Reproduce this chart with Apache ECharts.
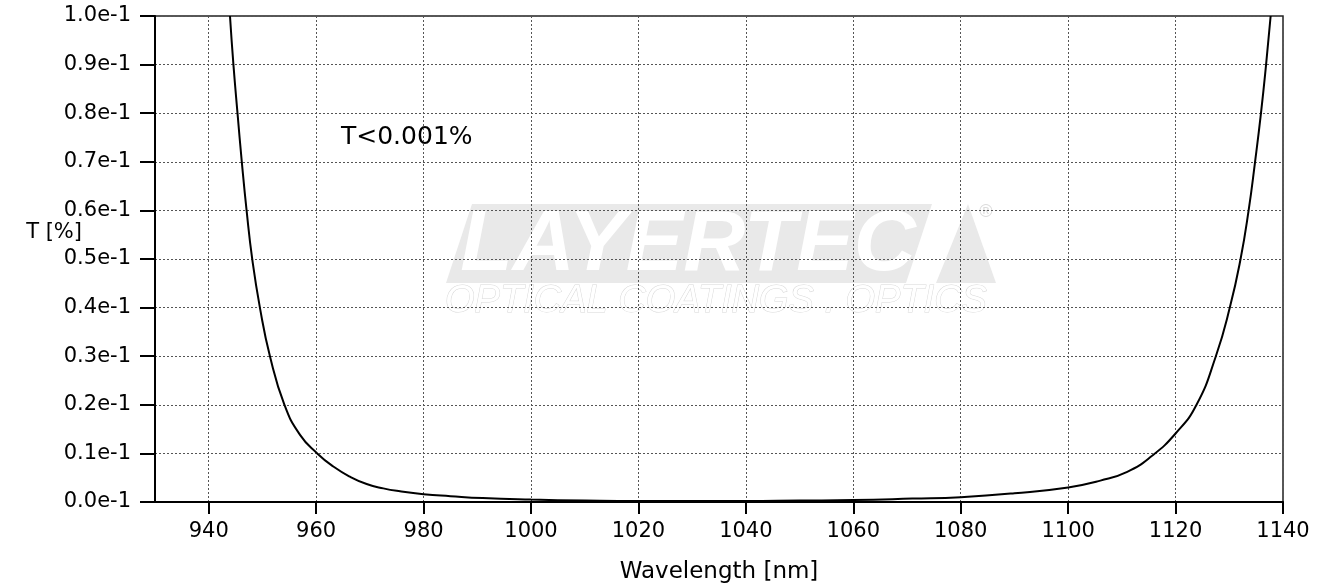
<!DOCTYPE html>
<html>
<head>
<meta charset="utf-8">
<script src="https://cdn.jsdelivr.net/npm/echarts@6/dist/echarts.min.js"></script>
<style>
html,body{margin:0;padding:0;background:#fff;}
#chart{width:1337px;height:587px;}
</style>
</head>
<body>
<div id="chart"></div>
<script>
// Wavelength [nm] and transmission [%]
const wavelength = [943.96, 944.6, 945.36, 946.16, 947.05, 948.1, 949.53, 951.4, 954.1, 957.0,
  960.2, 963.2, 966.3, 969.4, 972.5, 975.6, 980, 985, 991, 1000,
  1010, 1020, 1030, 1040, 1050, 1060, 1071, 1080, 1090, 1100,
  1106, 1111, 1115.5, 1120, 1123.9, 1127.5, 1130.1, 1132.1, 1133.6, 1134.8,
  1135.9, 1136.85, 1137.7];
const transmission = [0.1, 0.09, 0.08, 0.07, 0.06, 0.05, 0.04, 0.03, 0.02, 0.0138,
  0.01, 0.0073, 0.0052, 0.0037, 0.0028, 0.0022, 0.0016, 0.0012, 0.0008, 0.0005,
  0.0003, 0.0002, 0.0002, 0.0002, 0.0003, 0.0004, 0.0007, 0.001, 0.0018, 0.003,
  0.0044, 0.0062, 0.0094, 0.0141, 0.02, 0.03, 0.04, 0.05, 0.06, 0.07,
  0.08, 0.09, 0.1];
// Tick values / labels
const xTicks = [940, 960, 980, 1000, 1020, 1040, 1060, 1080, 1100, 1120, 1140];
const yTickLabels = ['0.0e-1','0.1e-1','0.2e-1','0.3e-1','0.4e-1','0.5e-1','0.6e-1','0.7e-1','0.8e-1','0.9e-1','1.0e-1'];
const annotation = 'T<0.001%';
const xName = 'Wavelength [nm]';
const yName = 'T [%]';

const data = wavelength.map((w, i) => [w, transmission[i]]);
const FONT = 'DejaVu Sans';

const chart = echarts.init(document.getElementById('chart'), null, {renderer: 'canvas'});
chart.setOption({
  animation: false,
  backgroundColor: '#fff',
  grid: {left: 155, right: 54, top: 16, bottom: 85, outerBoundsMode: 'none', containLabel: false,
    show: true, borderColor: '#222', borderWidth: 1.5, backgroundColor: 'transparent'},
  xAxis: {
    type: 'value', min: 930, max: 1140,
    name: xName, nameLocation: 'middle', nameGap: 59,
    nameTextStyle: {fontFamily: FONT, fontSize: 23, color: '#000'},
    axisLine: {show: true, lineStyle: {color: '#000', width: 2}},
    axisTick: {show: true, length: 12, lineStyle: {color: '#000', width: 2}, customValues: xTicks},
    axisLabel: {fontFamily: FONT, fontSize: 21, color: '#000', margin: 19, customValues: xTicks,
      formatter: v => String(v)},
    splitLine: {show: true, lineStyle: {color: '#555', width: 1, type: [2, 2]}}
  },
  yAxis: {
    type: 'value', min: 0, max: 0.1, interval: 0.01,
    axisLine: {show: true, lineStyle: {color: '#000', width: 2}},
    axisTick: {show: true, length: 15, lineStyle: {color: '#000', width: 2}},
    axisLabel: {fontFamily: FONT, fontSize: 21, color: '#000', margin: 24,
      formatter: v => yTickLabels[Math.round(v * 100)]},
    splitLine: {show: true, lineStyle: {color: '#555', width: 1, type: [2, 2]}}
  },
  graphic: [
    {type: 'polygon', z: -5, shape: {points: [[472, 204], [932, 204], [906, 283], [446, 283]]}, style: {fill: '#e9e9e9'}},
    {type: 'text', z: -4, x: 688, y: 246, style: {text: 'LAYERTEC', fill: '#fff', font: 'italic 900 86px "Liberation Sans"', textAlign: 'center', textVerticalAlign: 'middle'}},
    {type: 'polygon', z: -5, shape: {points: [[936, 283], [968, 204], [996, 283]]}, style: {fill: '#e9e9e9'}},
    {type: 'text', z: -4, x: 986, y: 212, style: {text: '®', fill: '#dcdcdc', font: '18px "Liberation Sans"', textAlign: 'center', textVerticalAlign: 'middle'}},
    {type: 'text', z: -4, x: 716, y: 301, style: {text: 'OPTICAL COATINGS . OPTICS', fill: '#fff', stroke: '#d8d8d8', lineWidth: 1, font: 'italic 200 38px "Liberation Sans"', textAlign: 'center', textVerticalAlign: 'middle'}},
    {type: 'text', x: 341, y: 137, style: {text: annotation, fill: '#000', font: '25px "DejaVu Sans"', textVerticalAlign: 'middle'}},
    {type: 'text', x: 82, y: 233, style: {text: yName, fill: '#000', font: '21px "DejaVu Sans"', textAlign: 'right', textVerticalAlign: 'middle'}}
  ],
  series: [{
    type: 'line', data: data, showSymbol: false, smooth: 0.5,
    clip: true, lineStyle: {color: '#000', width: 2}
  }]
});
</script>
</body>
</html>
